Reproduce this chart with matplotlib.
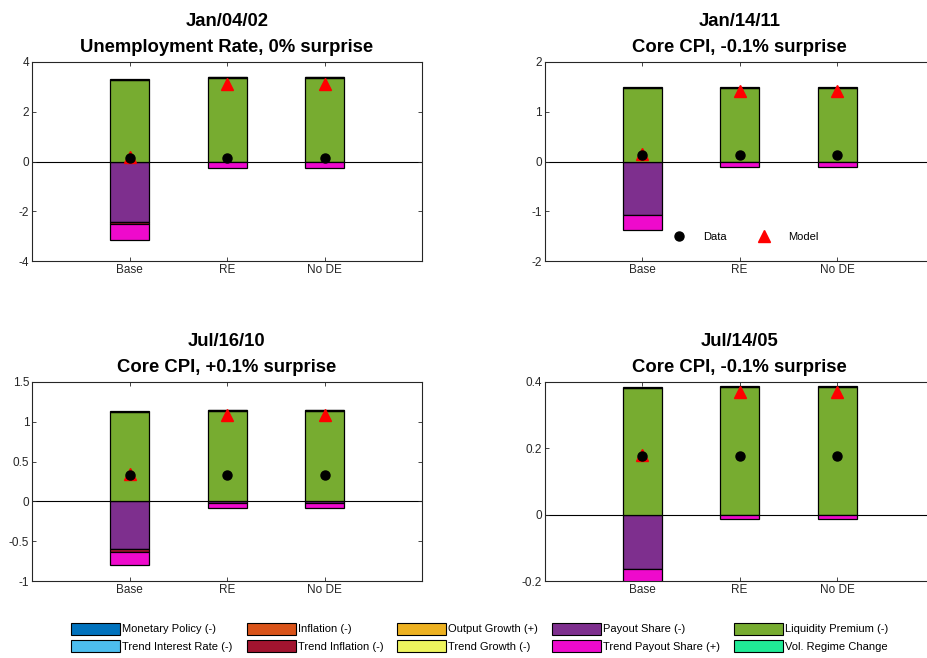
import numpy as np
import matplotlib.pyplot as plt
from matplotlib.patches import Patch
from matplotlib.lines import Line2D

plt.rcParams['font.family'] = ['Liberation Sans', 'DejaVu Sans']

scenarios = ["Base", "RE", "No DE"]

components = [
    "Monetary Policy (-)", "Inflation (-)", "Output Growth (+)", "Payout Share (-)",
    "Liquidity Premium (-)", "Trend Interest Rate (-)", "Trend Inflation (-)",
    "Trend Growth (-)", "Trend Payout Share (+)", "Vol. Regime Change",
]
colors = [
    "#0072BD", "#D95319", "#EDB120", "#7E2F8E", "#77AC30",
    "#4DBEEE", "#A2142F", "#EEF45E", "#EE0ACC", "#20EA96",
]

titles = [
    "Jan/04/02\nUnemployment Rate, 0% surprise",
    "Jan/14/11\nCore CPI, -0.1% surprise",
    "Jul/16/10\nCore CPI, +0.1% surprise",
    "Jul/14/05\nCore CPI, -0.1% surprise",
]

# contributions per panel: only nonzero components listed, values for Base, RE, No DE
jan0402 = {
    "Payout Share (-)": [-2.42, -0.03, -0.03],
    "Liquidity Premium (-)": [3.28, 3.35, 3.35],
    "Trend Interest Rate (-)": [0.03, 0.03, 0.03],
    "Trend Inflation (-)": [-0.1, 0.0, 0.0],
    "Trend Payout Share (+)": [-0.62, -0.22, -0.22],
}
jan1411 = {
    "Payout Share (-)": [-1.08, -0.015, -0.015],
    "Liquidity Premium (-)": [1.47, 1.48, 1.48],
    "Trend Interest Rate (-)": [0.025, 0.02, 0.02],
    "Trend Payout Share (+)": [-0.30, -0.09, -0.09],
}
jul1610 = {
    "Payout Share (-)": [-0.60, -0.015, -0.015],
    "Liquidity Premium (-)": [1.12, 1.13, 1.13],
    "Trend Interest Rate (-)": [0.012, 0.012, 0.012],
    "Trend Inflation (-)": [-0.035, 0.0, 0.0],
    "Trend Payout Share (+)": [-0.16, -0.065, -0.065],
}
jul1405 = {
    "Payout Share (-)": [-0.163, -0.002, -0.002],
    "Liquidity Premium (-)": [0.381, 0.385, 0.385],
    "Trend Interest Rate (-)": [0.003, 0.003, 0.003],
    "Trend Payout Share (+)": [-0.05, -0.011, -0.011],
}
panels = [jan0402, jan1411, jul1610, jul1405]

data_pts = [[0.15, 0.15, 0.15], [0.13, 0.13, 0.13], [0.335, 0.335, 0.335], [0.177, 0.177, 0.177]]
model_pts = [[0.2, 3.1, 3.1], [0.15, 1.42, 1.42], [0.35, 1.08, 1.08], [0.18, 0.37, 0.37]]

ylims = [(-4, 4), (-2, 2), (-1, 1.5), (-0.2, 0.4)]
yticks = [[-4, -2, 0, 2, 4], [-2, -1, 0, 1, 2],
          [-1, -0.5, 0, 0.5, 1, 1.5], [-0.2, 0, 0.2, 0.4]]

W, H = 927, 658
fig = plt.figure(figsize=(W / 100, H / 100), dpi=100)

boxes = [(32, 62), (544.5, 62), (32, 382), (544.5, 382)]
aw, ah = 390, 199

x = np.arange(1, 4)
for i, (bx, by) in enumerate(boxes):
    ax = fig.add_axes([bx / W, 1 - (by + ah) / H, aw / W, ah / H])
    pos = np.zeros(3)
    neg = np.zeros(3)
    for name, col in zip(components, colors):
        vals = np.array(panels[i].get(name, [0.0, 0.0, 0.0]))
        if not vals.any():
            continue
        base = np.where(vals >= 0, pos, neg)
        ax.bar(x, vals, 0.4, bottom=base, color=col, edgecolor="black", linewidth=0.9, zorder=2)
        pos = pos + np.clip(vals, 0, None)
        neg = neg + np.clip(vals, None, 0)
    ax.axhline(0, color="black", linewidth=0.8, zorder=1)
    ax.plot(x, model_pts[i], "^", color="red", markersize=8, linestyle="none", zorder=3)
    ax.plot(x, data_pts[i], "o", color="black", markersize=6.5, linestyle="none", zorder=4)
    ax.set_xlim(0, 4)
    ax.set_ylim(*ylims[i])
    ax.set_xticks(x)
    ax.set_xticklabels(scenarios)
    ax.set_yticks(yticks[i])
    ax.set_yticklabels([f"{t:g}" for t in yticks[i]])
    ax.tick_params(direction="in", top=True, right=True, length=3, width=0.6,
                   labelsize=8.5, colors="#262626", pad=2)
    for s in ax.spines.values():
        s.set_color("#262626")
        s.set_linewidth(0.8)
    ax.set_title(titles[i], fontsize=13.3, fontweight="bold", pad=7, linespacing=1.7)
    if i == 1:
        h = [Line2D([], [], marker="o", color="black", linestyle="none", markersize=6.5),
             Line2D([], [], marker="^", color="red", linestyle="none", markersize=8)]
        ax.legend(h, ["Data", "Model"], loc="center", bbox_to_anchor=(0.51, 0.12),
                  ncol=2, frameon=False, fontsize=8, columnspacing=2.3, handletextpad=1.2)

# legend fills column by column, so interleave the two rows
order = [0, 5, 1, 6, 2, 7, 3, 8, 4, 9]
handles = [Patch(facecolor=colors[k], edgecolor="black", linewidth=0.8) for k in order]
labels = [components[k] for k in order]
fig.legend(handles, labels, loc="center", bbox_to_anchor=(480 / W, 1 - 637.5 / H),
           ncol=5, frameon=False, fontsize=8, handlelength=4.4, handleheight=1.3,
           handletextpad=0.2, columnspacing=1.25, labelspacing=0.5)

fig.savefig("out.png", dpi=100)
